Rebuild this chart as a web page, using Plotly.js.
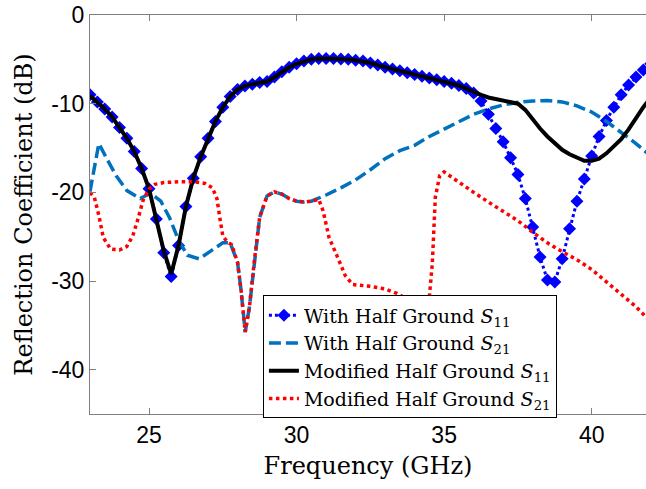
<!DOCTYPE html>
<html>
<head>
<meta charset="utf-8">
<script src="https://cdn.plot.ly/plotly-3.0.1.min.js"></script>
<style>
html,body{margin:0;padding:0;background:#fff;}
#chart{width:646px;height:489px;}
</style>
</head>
<body>
<div id="chart"></div>
<script>
// Frequency grid of the "With Half Ground" S11 samples (GHz)
const freqS11 = [23,23.25,23.5,23.75,24,24.25,24.5,24.75,25,25.25,25.5,25.75,26,26.25,26.5,26.75,27,27.25,27.5,27.75,28,28.25,28.5,28.75,29,29.25,29.5,29.75,30,30.25,30.5,30.75,31,31.25,31.5,31.75,32,32.25,32.5,32.75,33,33.25,33.5,33.75,34,34.25,34.5,34.75,35,35.25,35.5,35.75,36,36.25,36.5,36.75,37,37.25,37.5,37.75,38,38.25,38.5,38.75,39,39.25,39.5,39.75,40,40.25,40.5,40.75,41,41.25,41.5,41.75,42];
const withHalfS11 = [-9.0,-9.8,-10.6,-11.5,-12.7,-13.9,-15.4,-17.3,-19.6,-23.0,-26.8,-29.5,-26.0,-21.6,-18.4,-16.0,-13.9,-12.0,-10.4,-9.2,-8.4,-8.0,-7.8,-7.6,-7.5,-7.0,-6.4,-5.9,-5.5,-5.2,-5.0,-4.9,-4.9,-4.9,-4.95,-5.0,-5.1,-5.2,-5.4,-5.65,-5.9,-6.1,-6.3,-6.5,-6.7,-6.9,-7.1,-7.3,-7.5,-7.7,-7.95,-8.3,-8.8,-9.7,-11.2,-12.8,-14.3,-16.1,-18.0,-20.7,-23.9,-27.3,-29.9,-30.1,-27.5,-24.1,-21.0,-18.5,-15.9,-13.7,-11.9,-10.4,-9.0,-7.9,-7.0,-6.2,-5.5];

const freqModS11 = [23,23.25,23.5,23.75,24,24.25,24.5,24.75,25,25.25,25.5,25.75,26,26.25,26.5,26.75,27,27.25,27.5,27.75,28,28.25,28.5,28.75,29,29.25,29.5,29.75,30,30.25,30.5,30.75,31,31.25,31.5,31.75,32,32.25,32.5,32.75,33,33.25,33.5,33.75,34,34.25,34.5,34.75,35,35.25,35.5,35.75,36,36.25,36.5,36.75,37,37.25,37.5,37.75,38,38.25,38.5,38.75,39,39.25,39.5,39.75,40,40.25,40.5,40.75,41,41.25,41.5,41.75,42];
const modifiedS11 = [-9.1,-9.8,-10.6,-11.5,-12.7,-13.9,-15.4,-17.3,-19.6,-23.0,-26.6,-29.2,-26.0,-21.6,-18.4,-16.0,-13.9,-12.0,-10.4,-9.2,-8.4,-8.0,-7.8,-7.6,-7.5,-7.0,-6.4,-5.9,-5.5,-5.2,-5.0,-4.9,-4.9,-4.9,-4.95,-5.0,-5.1,-5.2,-5.4,-5.65,-5.9,-6.1,-6.3,-6.5,-6.7,-6.9,-7.1,-7.3,-7.5,-7.7,-7.95,-8.3,-8.7,-9.0,-9.3,-9.5,-9.65,-9.85,-10.0,-10.7,-11.8,-12.8,-13.7,-14.5,-15.2,-15.7,-16.1,-16.45,-16.45,-16.2,-15.6,-14.8,-14.0,-12.9,-11.6,-10.4,-9.3];

const freqWithS21 = [23,23.3,23.6,23.9,24.25,24.7,25.05,25.4,25.7,26,26.3,26.7,27.1,27.5,27.75,28,28.12,28.26,28.4,28.57,28.75,29,29.25,29.5,29.75,30,30.25,30.5,30.75,31,31.5,32,32.5,33,33.5,34,34.5,35,35.5,36,36.5,37,37.5,38,38.5,39,39.5,40,40.5,41,41.5,42];
const withHalfS21 = [-19.9,-14.5,-16.4,-18.2,-19.8,-20.7,-20.1,-21.0,-22.9,-25.4,-27.1,-27.5,-26.6,-25.7,-25.7,-27.9,-31.1,-35.75,-33.0,-27.7,-22.8,-20.4,-19.95,-20.2,-20.7,-21.0,-21.1,-21.0,-20.7,-20.3,-19.5,-18.6,-17.45,-16.2,-15.3,-14.7,-13.7,-12.85,-12.0,-11.2,-10.6,-10.15,-9.85,-9.7,-9.65,-9.8,-10.25,-10.95,-12.0,-13.2,-14.5,-15.9];

const freqModS21 = [23,23.15,23.3,23.45,23.7,24,24.25,24.45,24.6,24.8,25,25.2,25.5,26,26.5,26.9,27.15,27.3,27.4,27.5,27.65,27.8,28,28.12,28.26,28.4,28.57,28.75,29,29.25,29.5,29.75,30,30.25,30.5,30.75,30.9,31.1,31.4,31.65,31.9,32.2,32.5,33,33.4,33.9,34.2,34.45,34.6,34.7,34.85,35,35.5,36,36.5,37,37.5,38,38.5,39,39.5,40,40.5,41,41.5,42];
const modifiedS21 = [-20.0,-20.6,-22.6,-25.1,-26.4,-26.5,-26.1,-24.9,-23.3,-20.9,-19.6,-19.1,-18.9,-18.8,-18.8,-19.0,-19.5,-20.7,-22.9,-24.9,-25.6,-25.9,-27.9,-31.1,-35.75,-33.0,-27.7,-22.8,-20.4,-19.95,-20.2,-20.7,-21.0,-21.1,-21.0,-20.8,-22.1,-25.1,-27.4,-29.4,-30.4,-30.5,-30.6,-30.9,-31.4,-32.3,-33.1,-33.6,-28.0,-20.6,-18.1,-17.7,-18.9,-20.0,-21.1,-22.2,-23.2,-24.5,-25.7,-26.7,-27.6,-28.7,-30.1,-31.4,-32.9,-34.6];

const seriesNames = [
  'With Half Ground <i>S</i><sub>11</sub>',
  'With Half Ground <i>S</i><sub>21</sub>',
  'Modified Half Ground <i>S</i><sub>11</sub>',
  'Modified Half Ground <i>S</i><sub>21</sub>'
];
const xTicks = [25,30,35,40];
const yTicks = [0,-10,-20,-30,-40];

const traces = [
  {x:freqS11, y:withHalfS11, name:seriesNames[0], mode:'lines+markers', legendgroup:'a',
   line:{color:'#0000ff', width:3, dash:'dot'},
   marker:{symbol:'diamond', size:10, color:'#0000ff'}},
  {x:freqWithS21, y:withHalfS21, name:seriesNames[1], mode:'lines', legendgroup:'b',
   line:{color:'#0072bd', width:3.5, dash:'12px,5px'}},
  {x:freqModS11, y:modifiedS11, name:seriesNames[2], mode:'lines', legendgroup:'c',
   line:{color:'#000000', width:4}},
  {x:freqModS21, y:modifiedS21, name:seriesNames[3], mode:'lines', legendgroup:'d',
   line:{color:'#ff0000', width:3.5, dash:'dot'}}
];

const serif = 'DejaVu Serif, serif';
const sans = 'Liberation Sans, Arial, Helvetica, sans-serif';

const layout = {
  width:646, height:489,
  margin:{l:90, r:0, t:15, b:75},
  paper_bgcolor:'#fff', plot_bgcolor:'#fff',
  showlegend:true,
  legend:{x:0.311, y:0.297, xanchor:'left', yanchor:'top',
    bgcolor:'#ffffff', bordercolor:'#000000', borderwidth:1,
    font:{family:serif, size:19, color:'#000'},
    traceorder:'grouped', tracegroupgap:0},
  xaxis:{range:[23,41.84], tickvals:xTicks, ticktext:xTicks.map(String),
    ticks:'inside', ticklen:6, tickcolor:'#808080', showgrid:false, zeroline:false,
    showline:true, linecolor:'#808080', linewidth:1, mirror:'ticks',
    tickfont:{family:sans, size:23, color:'#000'},
    title:{text:'Frequency (GHz)', font:{family:serif, size:24, color:'#000'}, standoff:10}},
  yaxis:{range:[-45,0], tickvals:yTicks, ticktext:yTicks.map(String),
    ticks:'inside', ticklen:6, tickcolor:'#808080', showgrid:false, zeroline:false,
    showline:true, linecolor:'#808080', linewidth:1,
    tickfont:{family:sans, size:23, color:'#000'},
    title:{text:'Reflection Coefficient (dB)', font:{family:serif, size:24, color:'#000'}, standoff:11}}
};

Plotly.newPlot('chart', traces, layout, {displayModeBar:false, staticPlot:true});
</script>
</body>
</html>
